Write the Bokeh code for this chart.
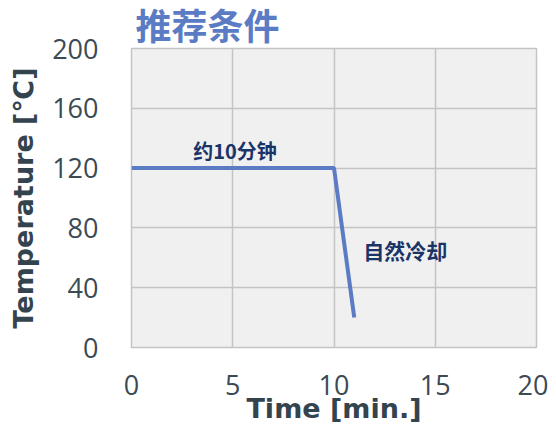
from bokeh.plotting import figure
from bokeh.models import Range1d, FixedTicker, Label
from bokeh.embed import file_html
from bokeh.resources import INLINE

# data
time_min = [0, 10, 11]
temperature_c = [120, 120, 20]
x_ticks = [0, 5, 10, 15, 20]
y_ticks = [0, 40, 80, 120, 160, 200]
title_text = "推荐条件"
corner_text = "果"
note_hold = "约10分钟"
note_cool = "自然冷却"
x_label = "Time [min.]"
y_label = "Temperature [℃]"

p = figure(width=548, height=426, output_backend="svg", toolbar_location=None,
           x_range=Range1d(0, 20), y_range=Range1d(0, 200),
           min_border_left=131, min_border_right=12, min_border_top=48, min_border_bottom=79)

p.title.text = title_text
p.title.align = "left"
p.title.offset = 4
p.title.standoff = 1
p.title.text_font = "Liberation Sans, Noto Sans CJK SC"
p.title.text_font_style = "bold"
p.title.text_font_size = "36px"
p.title.text_color = "#5b7cc4"

p.background_fill_color = "#f0f0f0"
p.border_fill_color = "white"
p.outline_line_color = "#c4c4c4"
p.outline_line_width = 1.5

for g in (p.xgrid, p.ygrid):
    g.grid_line_color = "#c4c4c4"
    g.grid_line_width = 1.5

p.xaxis.ticker = FixedTicker(ticks=x_ticks)
p.yaxis.ticker = FixedTicker(ticks=y_ticks)

for ax in (p.xaxis, p.yaxis):
    ax.axis_line_color = None
    ax.major_tick_line_color = None
    ax.minor_tick_line_color = None
    ax.major_tick_in = 0
    ax.major_tick_out = 0
    ax.major_label_text_font = "Open Sans"
    ax.major_label_text_font_size = "27px"
    ax.major_label_text_color = "#3b4a55"
    ax.axis_label_text_font = "DejaVu Sans"
    ax.axis_label_text_font_style = "bold"
    ax.axis_label_text_font_size = "27px"
    ax.axis_label_text_color = "#34444f"

p.xaxis.axis_label = x_label
p.yaxis.axis_label = y_label
p.xaxis.major_label_standoff = 27
p.xaxis.axis_label_standoff = -5
p.yaxis.major_label_standoff = 33
p.yaxis.axis_label_standoff = 10

p.line(time_min, temperature_c, line_color="#5b7cc4", line_width=4)

p.add_layout(Label(x=3.05, y=132, text=note_hold, text_font="Noto Sans CJK SC",
                   text_font_style="bold", text_font_size="20px", text_color="#1b3468",
                   text_baseline="middle", text_align="left"))
p.add_layout(Label(x=11.45, y=65, text=note_cool, text_font="Noto Sans CJK SC",
                   text_font_style="bold", text_font_size="21px", text_color="#1b3468",
                   text_baseline="middle", text_align="left"))

p.add_layout(Label(x=-146, y=333, x_units="screen", y_units="screen", text=corner_text,
                   text_font="Noto Sans CJK SC", text_font_style="bold", text_font_size="30px",
                   text_color="#37474f", text_baseline="middle", text_align="left",
                   level="overlay"))

open("out.html", "w").write(file_html(p, INLINE))
